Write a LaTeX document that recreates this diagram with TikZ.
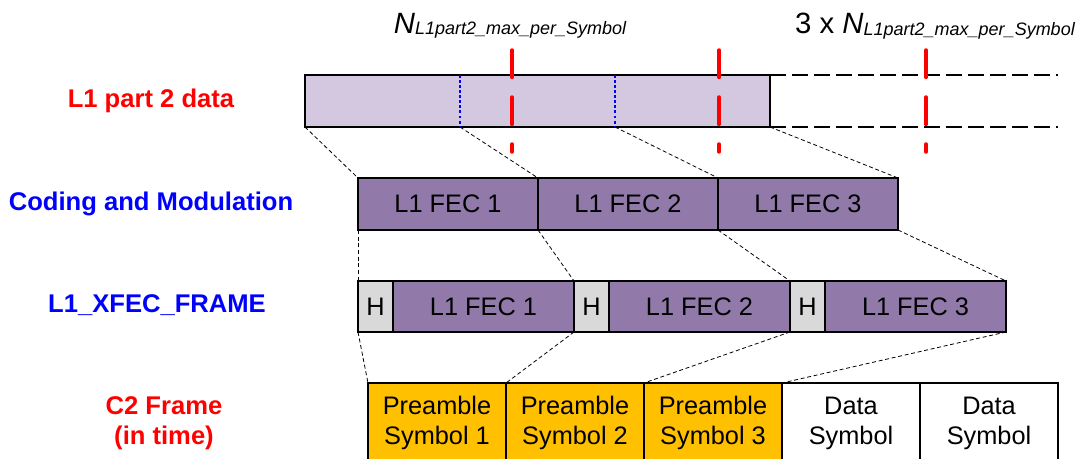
\documentclass[tikz,border=0pt]{standalone}
\usepackage{fontspec}
\setmainfont{Liberation Sans}
\usetikzlibrary{positioning,calc}

\definecolor{bardata}{RGB}{211,200,224}
\definecolor{fecpurple}{RGB}{145,122,170}
\definecolor{hgray}{RGB}{217,217,217}
\definecolor{preamble}{RGB}{255,192,0}

\newcommand{\Nmax}{{\fontsize{22}{22}\selectfont\itshape N}\raisebox{-1pt}{\fontsize{13.5}{13.5}\selectfont\itshape L1part2\_max\_per\_Symbol}}

\begin{document}
\begin{tikzpicture}[x=0.75pt,y=-0.75pt,
                every node/.style={draw, line width=1.5pt, outer sep=0pt, inner sep=0pt, align=center, font=\fontsize{19}{22.5}\selectfont},
                bar/.style={fill=bardata, minimum width=348.75pt, minimum height=39pt},
                fec/.style={fill=fecpurple, minimum width=135pt, minimum height=39pt},
                hdr/.style={fill=hgray, minimum width=26.25pt, minimum height=38.25pt},
                xfec/.style={fill=fecpurple, minimum width=135.75pt, minimum height=38.25pt},
                sym/.style={fill=white, minimum width=103.5pt, minimum height=60pt},
                rowlabel/.style={draw=none, font=\fontsize{19.2}{22.5}\selectfont\bfseries},
                toplabel/.style={draw=none, font=\fontsize{22}{22}\selectfont},
                link/.style={densely dashed, line width=0.6pt},
                cutline/.style={blue, line width=1.3pt, dash pattern=on 2.2pt off 1.6pt},
                redmark/.style={red, line width=2.6pt, line cap=round, dash pattern=on 20.5pt off 14.75pt},
                extend/.style={line width=1.5pt, dash pattern=on 12pt off 4.5pt}
                ]
                \useasboundingbox (0,0) rectangle (1083,459);

                % row labels
                \node[rowlabel, text=red] (lblData) at (151,101) {L1 part 2 data};
                \node[rowlabel, text=blue] (lblCode) at (151,204) {Coding and Modulation};
                \node[rowlabel, text=blue] (lblXfec) at (157,305) {L1\_XFEC\_FRAME};
                \node[rowlabel, text=red] (lblFrame) at (164,423) {C2 Frame\\(in time)};

                % L1 part 2 data
                \node[bar, anchor=north west] (l1data) at (305,75) {};
                \coordinate (cutA) at ($(l1data.south west)!1/3!(l1data.south east)$);
                \coordinate (cutB) at ($(l1data.south west)!2/3!(l1data.south east)$);
                \draw[cutline] ($(l1data.north west)!1/3!(l1data.north east)$) -- (cutA);
                \draw[cutline] ($(l1data.north west)!2/3!(l1data.north east)$) -- (cutB);
                \coordinate (extN) at (1058,75);
                \coordinate (extS) at (1058,127);
                \draw[extend] (l1data.north east) -- (extN);
                \draw[extend] (l1data.south east) -- (extS);
                \foreach \x in {512,719,926}
                    \draw[redmark] (\x,50) -- (\x,152);
                \node[toplabel] (nOne) at (510,26) {\Nmax};
                \node[toplabel] (nThree) at (935,26) {3 x \Nmax};

                % coding and modulation
                \node[fec, anchor=north west] (fecA) at (358,178) {L1 FEC 1};
                \node[fec, right=0pt of fecA] (fecB) {L1 FEC 2};
                \node[fec, right=0pt of fecB] (fecC) {L1 FEC 3};

                % L1_XFEC_FRAME
                \node[hdr, anchor=north west] (hA) at (358,281) {H};
                \node[xfec, right=0pt of hA] (xA) {L1 FEC 1};
                \node[hdr, right=0pt of xA] (hB) {H};
                \node[xfec, right=0pt of hB] (xB) {L1 FEC 2};
                \node[hdr, right=0pt of xB] (hC) {H};
                \node[xfec, right=0pt of hC] (xC) {L1 FEC 3};

                % C2 frame
                \node[sym, fill=preamble, anchor=north west] (symA) at (368,383) {Preamble\\Symbol 1};
                \node[sym, fill=preamble, right=0pt of symA] (symB) {Preamble\\Symbol 2};
                \node[sym, fill=preamble, right=0pt of symB] (symC) {Preamble\\Symbol 3};
                \node[sym, right=0pt of symC] (symD) {Data\\Symbol};
                \node[sym, right=0pt of symD] (symE) {Data\\Symbol};

                % mapping lines
                \draw[link] (l1data.south west) -- (fecA.north west);
                \draw[link] (cutA) -- (fecA.north east);
                \draw[link] (cutB) -- (fecB.north east);
                \draw[link] (l1data.south east) -- (fecC.north east);
                \draw[link] (fecA.south west) -- (hA.north west);
                \draw[link] (fecA.south east) -- (hB.north west);
                \draw[link] (fecB.south east) -- (hC.north west);
                \draw[link] (fecC.south east) -- (xC.north east);
                \draw[link] (hA.south west) -- (symA.north west);
                \draw[link] (hB.south west) -- (symA.north east);
                \draw[link] (hC.south west) -- (symB.north east);
                \draw[link] (xC.south east) -- (symC.north east);
\end{tikzpicture}
\end{document}
